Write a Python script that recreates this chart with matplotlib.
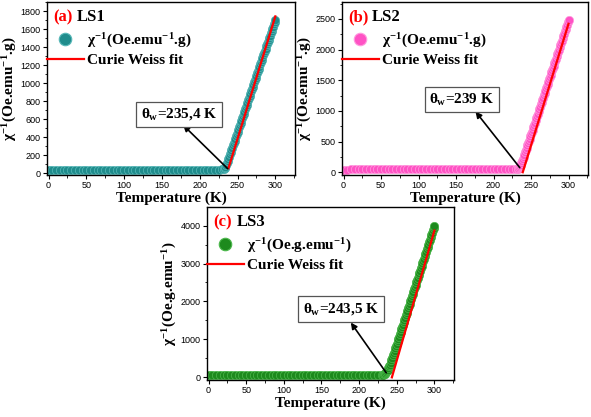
import matplotlib
matplotlib.use("Agg")
import matplotlib.pyplot as plt
from matplotlib.ticker import MultipleLocator
from matplotlib.lines import Line2D

plt.rcParams['mathtext.fontset'] = 'custom'
plt.rcParams['mathtext.rm'] = 'Liberation Serif:bold'
plt.rcParams['mathtext.bf'] = 'Liberation Serif:bold'
plt.rcParams['mathtext.it'] = 'Liberation Serif:bold'

# ---------------- data ----------------
temperature = [0, 5, 10, 15, 20, 25, 30, 35, 40, 45, 50, 55, 60, 65, 70, 75, 80, 85, 90, 95,
               100, 105, 110, 115, 120, 125, 130, 135, 140, 145, 150, 155, 160, 165, 170, 175,
               180, 185, 190, 195, 200, 205, 210, 215, 220, 225, 230,
               232, 233, 234, 235, 236, 237, 238, 239, 240, 241, 242, 243, 244, 245, 246,
               247, 248, 249, 250, 251, 252, 253, 254, 255, 256, 257, 258, 259, 260, 261,
               262, 263, 264, 265, 266, 267, 268, 269, 270, 271, 272, 273, 274, 275, 276,
               277, 278, 279, 280, 281, 282, 283, 284, 285, 286, 287, 288, 289, 290, 291,
               292, 293, 294, 295, 296, 297, 298, 299, 300]

inv_chi_ls1 = [34, 34, 35, 35, 35, 35, 35, 35, 35, 35, 35, 35, 35, 35, 35, 35, 35, 35, 35, 35,
               35, 35, 35, 35, 35, 35, 35, 35, 35, 36, 36, 36, 36, 36, 36, 37,
               37, 37, 38, 38, 38, 39, 39, 40, 40, 41, 42,
               45, 57, 70, 90, 110, 135, 160, 185, 210, 235, 260, 285, 310, 335, 360,
               385, 410, 435, 460, 485, 510, 535, 560, 585, 610, 635, 660, 685, 710, 735,
               760, 785, 810, 835, 860, 885, 910, 935, 960, 985, 1010, 1035, 1060, 1085, 1110,
               1135, 1160, 1185, 1210, 1235, 1260, 1285, 1310, 1335, 1360, 1385, 1410, 1435, 1460, 1483,
               1505, 1530, 1555, 1580, 1605, 1630, 1655, 1680, 1705]

inv_chi_ls2 = [44, 44, 45, 45, 45, 45, 45, 45, 45, 45, 45, 45, 45, 45, 45, 45, 45, 45, 45, 45,
               45, 45, 45, 45, 45, 45, 45, 45, 45, 46, 46, 46, 46, 46, 46, 47,
               47, 47, 48, 48, 48, 49, 49, 50, 50, 51, 52,
               55, 66, 80, 98, 120, 148, 180, 214, 250, 287, 324, 361, 399, 436, 473,
               510, 548, 585, 622, 659, 696, 733, 771, 808, 845, 882, 920, 957, 994, 1031,
               1068, 1105, 1143, 1180, 1217, 1254, 1292, 1329, 1366, 1403, 1440, 1477, 1515, 1552, 1589,
               1626, 1664, 1701, 1738, 1775, 1812, 1849, 1887, 1924, 1961, 1998, 2036, 2073, 2110, 2147,
               2184, 2221, 2259, 2296, 2333, 2370, 2408, 2445, 2482]

inv_chi_ls3 = [58, 58, 59, 59, 59, 59, 59, 59, 59, 59, 59, 59, 59, 59, 59, 59, 59, 59, 59, 59,
               59, 59, 59, 59, 59, 59, 59, 59, 59, 60, 60, 60, 60, 60, 60, 61,
               61, 61, 62, 62, 62, 63, 63, 64, 64, 65, 66,
               70, 78, 90, 108, 130, 162, 200, 242, 290, 338, 390, 452, 515, 577, 640,
               702, 764, 826, 888, 950, 1013, 1075, 1137, 1200, 1262, 1324, 1386, 1448, 1510, 1572,
               1635, 1697, 1759, 1821, 1884, 1946, 2008, 2070, 2132, 2194, 2257, 2319, 2381, 2443, 2506,
               2568, 2630, 2692, 2754, 2816, 2879, 2941, 3003, 3065, 3128, 3190, 3252, 3314, 3376, 3438,
               3501, 3563, 3625, 3687, 3750, 3812, 3874, 3937, 4000]

fit_ls1_T = [238, 300]
fit_ls1_y = [56, 1745]
fit_ls2_T = [239, 300]
fit_ls2_y = [0, 2420]
fit_ls3_T = [243.5, 300]
fit_ls3_y = [0, 3870]

panel_letters = ['(a)', '(b)', '(c)']
sample_names = ['LS1', 'LS2', 'LS3']
theta_labels = [r'$\theta_{w}$=235,4 K', r'$\theta_{w}$=239 K', r'$\theta_{w}$=243,5 K']
legend_labels = [r'$\chi^{-1}$(Oe.emu$^{-1}$.g)', r'$\chi^{-1}$(Oe.emu$^{-1}$.g)',
                 r'$\chi^{-1}$(Oe.g.emu$^{-1}$)']
ylabels = [r'$\chi^{-1}$(Oe.emu$^{-1}$.g)', r'$\chi^{-1}$(Oe.emu$^{-1}$.g)',
           r'$\chi^{-1}$(Oe.g.emu$^{-1}$)']

# ---------------- styling/layout ----------------
W, H = 591, 417
fig = plt.figure(figsize=(W / 100, H / 100), dpi=100)

def px_axes(l, t, r, b):
    return fig.add_axes([l / W, (H - b) / H, (r - l) / W, (b - t) / H])

axes = [px_axes(47, 2, 295, 175), px_axes(342, 2, 588, 175), px_axes(207, 207, 454, 380)]
datasets = [inv_chi_ls1, inv_chi_ls2, inv_chi_ls3]
fits = [(fit_ls1_T, fit_ls1_y), (fit_ls2_T, fit_ls2_y), (fit_ls3_T, fit_ls3_y)]
face_colors = ['#1f8c8c', '#ff52c4', '#1d8a1d']
edge_colors = ['#58b8b8', '#ff9ade', '#4cb84c']
ylims = [(-20, 1905), (-45, 2775), (-70, 4490)]
ymajor = [200, 500, 1000]
yminor = [100, 250, 500]
# annotation: (box center T, box center y), arrow head (T, y), arrow tail (T, y)
box_pos = [(173, 658), (158, 1185), (176, 1800)]
arrow_head = [(178, 536), (176, 990), (189, 1444)]
arrow_tail = [(237, 50), (235, 75), (236, 120)]

serif = 'Liberation Serif'

for i, ax in enumerate(axes):
    y = datasets[i]
    ax.plot(temperature, y, linestyle='none', marker='o', markersize=6,
            markerfacecolor=face_colors[i], markeredgecolor=edge_colors[i],
            markeredgewidth=0.5, zorder=2)
    ax.plot(fits[i][0], fits[i][1], color='#ff0000', lw=1.6, zorder=3)

    ax.set_xlim(-2, 326)
    ax.set_ylim(*ylims[i])
    ax.xaxis.set_major_locator(MultipleLocator(50))
    ax.xaxis.set_minor_locator(MultipleLocator(25))
    ax.yaxis.set_major_locator(MultipleLocator(ymajor[i]))
    ax.yaxis.set_minor_locator(MultipleLocator(yminor[i]))
    ax.tick_params(which='major', direction='out', length=3, width=0.8,
                   labelsize=6.5, pad=1.5)
    ax.tick_params(which='minor', direction='out', length=1.8, width=0.6)
    for lab in ax.get_xticklabels() + ax.get_yticklabels():
        lab.set_fontfamily('Liberation Sans')
    for sp in ax.spines.values():
        sp.set_linewidth(1.0)

    ax.set_xlabel('Temperature (K)', fontfamily=serif, fontweight='bold',
                  fontsize=11, labelpad=1)
    ax.set_ylabel(ylabels[i], fontfamily=serif, fontweight='bold', fontsize=11,
                  labelpad=1)

    # panel title
    ax.text(0.025, 0.96, panel_letters[i], transform=ax.transAxes, color='#ff0000',
            fontfamily=serif, fontweight='bold', fontsize=12, va='top', ha='left')
    ax.text(0.12, 0.96, sample_names[i], transform=ax.transAxes, color='black',
            fontfamily=serif, fontweight='bold', fontsize=12, va='top', ha='left')

    handles = [Line2D([], [], linestyle='none', marker='o', markersize=9,
                      markerfacecolor=face_colors[i], markeredgecolor=edge_colors[i],
                      markeredgewidth=0.8),
               Line2D([], [], color='#ff0000', lw=1.6)]
    ax.legend(handles, [legend_labels[i], 'Curie Weiss fit'], loc='upper left',
              bbox_to_anchor=(0.0, 0.83), frameon=False, borderpad=0, borderaxespad=0,
              handlelength=2.4, handletextpad=0.25, labelspacing=0.25,
              prop={'family': serif, 'weight': 'bold', 'size': 11})

    ax.annotate('', xy=arrow_head[i], xytext=arrow_tail[i],
                arrowprops=dict(arrowstyle='-|>', color='black', lw=1.2,
                                mutation_scale=9, shrinkA=0, shrinkB=0), zorder=4)
    ax.text(box_pos[i][0], box_pos[i][1], theta_labels[i], fontfamily=serif,
            fontweight='bold', fontsize=11, ha='center', va='center', zorder=5,
            bbox=dict(boxstyle='square,pad=0.3', fc='white', ec='#555555', lw=0.9))

fig.savefig('out.png', dpi=100)
